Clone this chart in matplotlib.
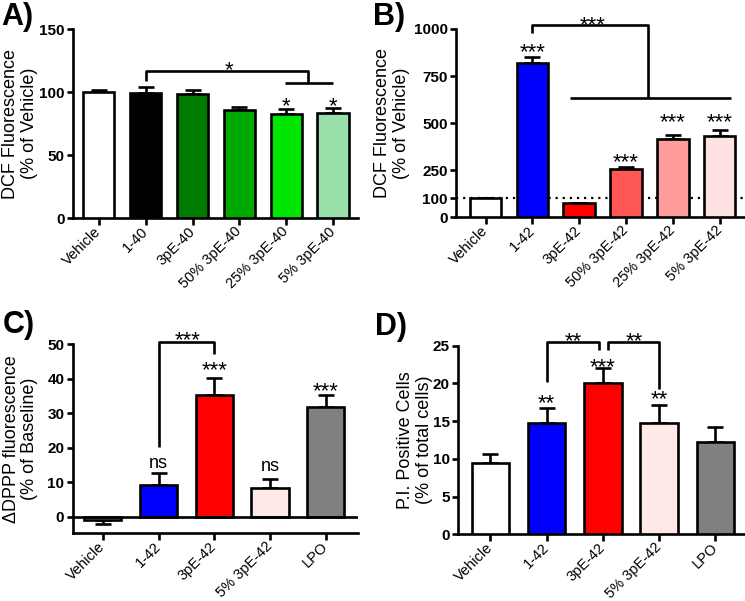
import matplotlib
matplotlib.use("Agg")
import matplotlib.pyplot as plt
import numpy as np

plt.rcParams['font.family'] = ['Liberation Sans', 'DejaVu Sans']

# ---------------- data ----------------
A_labels = ['Vehicle', '1-40', '3pE-40', '50% 3pE-40', '25% 3pE-40', '5% 3pE-40']
A_means = [100, 99.5, 98.5, 86, 82.5, 83.5]
A_errs = [2, 4.5, 3, 2, 4.5, 4]
A_colors = ['#FFFFFF', '#000000', '#007A00', '#00A800', '#00E600', '#98DFA9']
A_yticks = [0, 50, 100, 150]

B_labels = ['Vehicle', '1-42', '3pE-42', '50% 3pE-42', '25% 3pE-42', '5% 3pE-42']
B_means = [100, 821, 74, 255, 416, 433]
B_errs = [5, 29, 3, 14, 19, 31]
B_colors = ['#FFFFFF', '#0000FF', '#FF0000', '#FF5656', '#FF9C9C', '#FFE3E3']
B_yticks = [0, 100, 250, 500, 750, 1000]

C_labels = ['Vehicle', '1-42', '3pE-42', '5% 3pE-42', 'LPO']
C_means = [-1.0, 9.2, 35.3, 8.4, 31.9]
C_errs = [1.1, 3.4, 5.0, 2.5, 3.4]
C_colors = ['#FFFFFF', '#0000FF', '#FF0000', '#FFE8E8', '#808080']
C_yticks = [0, 10, 20, 30, 40, 50]

D_labels = ['Vehicle', '1-42', '3pE-42', '5% 3pE-42', 'LPO']
D_means = [9.4, 14.8, 20.1, 14.8, 12.3]
D_errs = [1.3, 1.9, 2.0, 2.4, 1.9]
D_colors = ['#FFFFFF', '#0000FF', '#FF0000', '#FFE8E8', '#808080']
D_yticks = [0, 5, 10, 15, 20, 25]

W, H = 745, 601
fig = plt.figure(figsize=(W / 100, H / 100), dpi=100)


def px_axes(left, top, right, bottom):
    return fig.add_axes([left / W, 1 - bottom / H, (right - left) / W, (bottom - top) / H])


LW = 1.9


def panel(ax, labels, means, errs, colors, yticks, ylim, xlim, ylabel, labx):
    n = len(labels)
    x = np.arange(n)
    ax.bar(x, means, width=0.67, color=colors, edgecolor='black', linewidth=LW, zorder=3)
    lo = [e if m < 0 else 0 for m, e in zip(means, errs)]
    hi = [0 if m < 0 else e for m, e in zip(means, errs)]
    ax.errorbar(x, means, yerr=[lo, hi], fmt='none', ecolor='black', elinewidth=LW,
                capsize=5.5, capthick=LW, zorder=2)
    ax.set_xlim(*xlim)
    ax.set_ylim(*ylim)
    ax.set_yticks(yticks)
    ax.set_yticklabels([str(t) for t in yticks], fontweight='bold', fontsize=11)
    ax.set_xticks(x)
    ax.set_xticklabels(labels, rotation=45, ha='right', va='center',
                       rotation_mode='anchor', fontsize=10.5)
    for s in ['top', 'right']:
        ax.spines[s].set_visible(False)
    for s in ['left', 'bottom']:
        ax.spines[s].set_linewidth(LW)
    ax.tick_params(axis='both', width=LW, length=4, direction='out', pad=2)
    ax.tick_params(axis='x', length=5, pad=3)
    ax.set_ylabel(ylabel, fontsize=13, linespacing=1.15)
    ax.yaxis.set_label_coords(labx, 0.5)


def star(ax, x, y, s='*', fs=16):
    # y is the visual centre of the asterisk glyphs
    ax.annotate(s, (x, y), xytext=(0, -0.57 * fs), textcoords='offset points',
                ha='center', va='baseline', fontsize=fs, annotation_clip=False)


def ns(ax, x, y, fs=13):
    ax.annotate('ns', (x, y), xytext=(0, -0.26 * fs), textcoords='offset points',
                ha='center', va='baseline', fontsize=fs, annotation_clip=False)


def line(ax, xs, ys):
    ax.plot(xs, ys, color='black', lw=LW, clip_on=False, zorder=5, solid_capstyle='butt')


# ---------------- Panel A ----------------
axA = px_axes(73, 29.3, 358, 218.3)
panel(axA, A_labels, A_means, A_errs, A_colors, A_yticks, (0, 150), (-0.55, 5.53),
      'DCF Fluorescence\n(% of Vehicle)', -0.123)
line(axA, [1, 1, 4.47, 4.47], [109, 117, 117, 107.6])
line(axA, [3.97, 4.99], [107.6, 107.6])
star(axA, 2.78, 123)
star(axA, 4, 94.4)
star(axA, 5, 94.4)

# ---------------- Panel B ----------------
axB = px_axes(456, 29, 744.5, 217.3)
panel(axB, B_labels, B_means, B_errs, B_colors, B_yticks, (0, 1000), (-0.63, 5.53),
      'DCF Fluorescence\n(% of Vehicle)', -0.159)
axB.axhline(100, color='black', lw=1.6, ls=(0, (1, 2.2)), zorder=1)
line(axB, [1, 1, 3.46, 3.46], [977, 1021, 1021, 632])
line(axB, [1.81, 5.25], [632, 632])
star(axB, 2.28, 1057, '***')
star(axB, 1, 911, '***')
star(axB, 3, 327, '***')
star(axB, 4, 543, '***')
star(axB, 5, 543, '***')

# ---------------- Panel C ----------------
axC = px_axes(72.7, 344.3, 358, 533.3)
panel(axC, C_labels, C_means, C_errs, C_colors, C_yticks, (-4.8, 50), (-0.54, 4.58),
      '\u0394DPPP fluorescence\n(% of Baseline)', -0.12)
axC.axhline(0, color='black', lw=LW, zorder=4)
line(axC, [1, 1, 2, 2], [20.3, 50.8, 50.8, 47.1])
star(axC, 1.52, 53.2, '***')
star(axC, 2, 44.5, '***')
star(axC, 4, 38.2, '***')
ns(axC, 1, 15.5)
ns(axC, 3, 14.5)

# ---------------- Panel D ----------------
axD = px_axes(458, 345.7, 744.7, 534.3)
panel(axD, D_labels, D_means, D_errs, D_colors, D_yticks, (0, 25), (-0.575, 4.52),
      'P.I. Positive Cells\n(% of total cells)', -0.087)
line(axD, [1, 1, 1.93, 1.93], [20.2, 25.5, 25.5, 24.4])
line(axD, [2.09, 2.09, 2.99, 2.99], [24.4, 25.5, 25.5, 19.3])
star(axD, 1.48, 26.5, '**')
star(axD, 2.55, 26.5, '**')
star(axD, 1, 18.2, '**')
star(axD, 2, 23.1, '***')
star(axD, 3, 18.8, '**')

# ---------------- Panel letters ----------------
for lab, (px, py) in {'A)': (1, 25), 'B)': (373, 25), 'C)': (3, 333), 'D)': (375, 335)}.items():
    fig.text(px / W, 1 - py / H, lab, fontsize=22, fontweight='bold', ha='left', va='baseline')

fig.savefig('out.png', dpi=100)
